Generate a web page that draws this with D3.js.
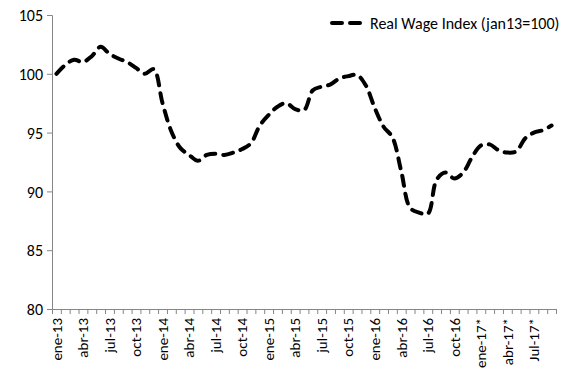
<!DOCTYPE html>
<html><head><meta charset="utf-8">
<script src="https://cdn.jsdelivr.net/npm/d3@7"></script>
<style>
html,body{margin:0;padding:0;background:#fff;}
svg{display:block;}
text{font-family:Carlito,Lato,"Open Sans",sans-serif;fill:#000;}
</style></head>
<body><svg id="c" width="567" height="376"></svg>
<script>
const categories = [
 "ene-13","feb-13","mar-13","abr-13","may-13","jun-13","jul-13","ago-13","sep-13","oct-13","nov-13","dic-13",
 "ene-14","feb-14","mar-14","abr-14","may-14","jun-14","jul-14","ago-14","sep-14","oct-14","nov-14","dic-14",
 "ene-15","feb-15","mar-15","abr-15","may-15","jun-15","jul-15","ago-15","sep-15","oct-15","nov-15","dic-15",
 "ene-16","feb-16","mar-16","abr-16","may-16","jun-16","jul-16","ago-16","sep-16","oct-16","nov-16","dic-16",
 "ene-17*","feb-17*","mar-17*","abr-17*","may-17*","jun-17*","Jul-17*","ago-17*","sep-17*"
];
const realWage = [
 100.0,100.75,101.2,101.0,101.5,102.3,101.7,101.3,101.0,100.5,100.0,100.4,
 97.5,95.1,93.7,93.1,92.6,93.1,93.2,93.1,93.3,93.6,94.1,95.6,
 96.5,97.2,97.5,97.0,96.9,98.6,98.9,99.1,99.6,99.8,99.9,99.0,
 97.1,95.5,94.6,91.7,88.6,88.2,88.1,91.0,91.6,91.1,91.6,92.9,
 93.9,94.0,93.5,93.3,93.4,94.5,95.0,95.2,95.6
];
const yTicks = [80,85,90,95,100,105];
const seriesName = "Real Wage Index (jan13=100)";

const svg = d3.select("#c");
const L = 52, R = 556, T = 15, B = 309;
const x = d3.scaleBand().domain(categories).range([L, R]).padding(0);
const xb = d3.scaleLinear().domain([0, categories.length]).range([L, R]);
const y = d3.scaleLinear().domain([80, 105]).range([B, T]);
const axisColor = "#868686";

// Y axis
const ya = svg.append("g").attr("transform", `translate(${L},0)`)
  .call(d3.axisLeft(y).tickValues(yTicks).tickSize(5).tickPadding(4).tickFormat(d3.format("d")));
ya.select(".domain").attr("stroke", axisColor);
ya.selectAll(".tick line").attr("stroke", axisColor);
ya.selectAll(".tick text").style("font-size", "16px").attr("dy", "0.35em");

// X axis ticks at category boundaries
const xt = svg.append("g").attr("transform", `translate(0,${B})`)
  .call(d3.axisBottom(xb).tickValues(d3.range(categories.length + 1)).tickSize(5).tickFormat(""));
xt.select(".domain").attr("stroke", axisColor).attr("d", `M${L},0.5H${R}`);
xt.selectAll(".tick line").attr("stroke", axisColor);

// X labels
const xl = svg.append("g").attr("transform", `translate(0,${B})`)
  .call(d3.axisBottom(x).tickValues(categories.filter((d, i) => i % 3 === 0)).tickSize(0));
xl.select(".domain").remove();
xl.selectAll(".tick text")
  .style("font-size", "15px")
  .attr("text-anchor", "end")
  .attr("transform", "rotate(-90)")
  .attr("x", -9).attr("y", 0).attr("dy", "0.35em");

// Line
const line = d3.line()
  .x((d, i) => x(categories[i]) + x.bandwidth() / 2)
  .y(d => y(d))
  .curve(d3.curveCatmullRom.alpha(0.5));
svg.append("path").datum(realWage)
  .attr("d", line)
  .attr("fill", "none").attr("stroke", "#000")
  .attr("stroke-width", 4).attr("stroke-linecap", "round")
  .attr("stroke-dasharray", "10,8");

// Legend
const lg = svg.append("g");
lg.append("line").attr("x1", 332).attr("x2", 366).attr("y1", 23).attr("y2", 23)
  .attr("stroke", "#000").attr("stroke-width", 4).attr("stroke-linecap", "round")
  .attr("stroke-dasharray", "10,8");
lg.append("text").attr("x", 370).attr("y", 23).attr("dy", "0.35em")
  .style("font-size", "16px").text(seriesName);
</script></body></html>
